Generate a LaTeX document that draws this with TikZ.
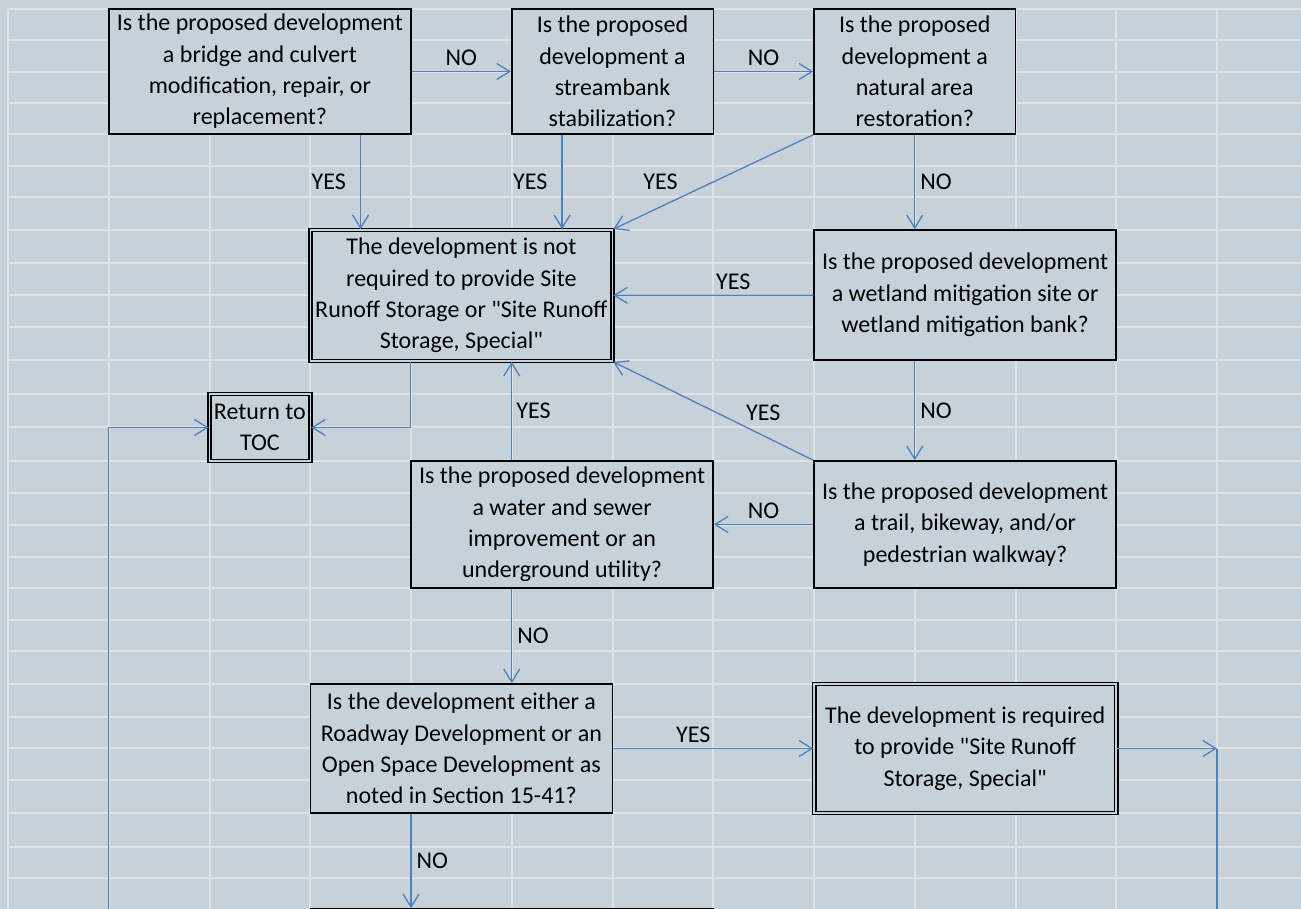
\documentclass[tikz,border=0pt]{standalone}
\usepackage{fontspec}
\setmainfont{Carlito}
\usetikzlibrary{arrows.meta}
\definecolor{sheet}{RGB}{198,209,217}
\definecolor{cellline}{RGB}{224,226,229}
\definecolor{flow}{RGB}{79,129,189}
\tikzset{
	box/.style={draw=black, line width=1.5pt, fill=sheet, align=center, inner sep=0pt, execute at begin node={\rule{0pt}{30pt}}},
	final/.style={box, double=sheet, double distance=1.4pt, line width=1.7pt},
	arr/.style={draw=flow, line width=1.3pt, -{Straight Barb[length=13pt,width=16pt]}},
	flowline/.style={draw=flow, line width=1.3pt},
	lbl/.style={inner sep=2pt},
	cell/.style={draw=cellline, line width=2pt}
}
\begin{document}
\begin{tikzpicture}
		[x=1pt, y=-1pt, font=\fontsize{24}{31.3}\selectfont]
		\useasboundingbox (0,0) rectangle (1301,909);
		\clip (0,0) rectangle (1301,909);
		\fill[sheet] (0,0) rectangle (1301,909);
		% sheet grid
		\foreach \c in {0,...,12}
			\draw[cell] ({8+100.75*\c},9) -- ({8+100.75*\c},909);
		\foreach \r in {9,40,72,103,134,166,197,230,263,295,327,360,394,427,461,493,525,557,588,620,651,684,717,748,780,813,847,878}
			\draw[cell] (8,\r) -- (1301,\r);
		% questions and results
		\node[box, minimum width=302pt, minimum height=125pt] (A) at (259.9,71.5) {Is the proposed development\\a bridge and culvert\\modification, repair, or\\replacement?};
		\node[box, minimum width=201.5pt, minimum height=125pt] (B) at (612.5,71.5) {Is the proposed\\development a\\streambank\\stabilization?};
		\node[box, minimum width=201.5pt, minimum height=125pt] (C) at (914.75,71.5) {Is the proposed\\development a\\natural area\\restoration?};
		\node[final, minimum width=302pt, minimum height=131pt] (D) at (461.4,295.5) {The development is not\\required to provide Site\\Runoff Storage or \textquotedbl Site Runoff\\Storage, Special\textquotedbl};
		\node[box, minimum width=302pt, minimum height=130pt] (E) at (965.1,295) {Is the proposed development\\a wetland mitigation site or\\wetland mitigation bank?};
		\node[final, minimum width=100.75pt, minimum height=67pt] (TOC) at (259.9,427.5) {Return to\\TOC};
		\node[box, minimum width=302pt, minimum height=127pt] (G) at (562.1,524.5) {Is the proposed development\\a water and sewer\\improvement or an\\underground utility?};
		\node[box, minimum width=302pt, minimum height=127pt] (F) at (965.1,524.5) {Is the proposed development\\a trail, bikeway, and/or\\pedestrian walkway?};
		\node[box, minimum width=302pt, minimum height=129pt] (H) at (461.4,748.5) {Is the development either a\\Roadway Development or an\\Open Space Development as\\noted in Section 15-41?};
		\node[final, minimum width=302pt, minimum height=129pt] (I) at (965.1,748.5) {The development is required\\to provide \textquotedbl Site Runoff\\Storage, Special\textquotedbl};
		\node[box, minimum width=403pt, minimum height=128pt] (N) at (511.75,973) {};
		\coordinate (side) at (108.75,920);
		\coordinate (turn) at (1217,748.5);
		\coordinate (down) at (1217,920);
		% connectors
		\draw (A) edge[arr] node[lbl, above=3pt] {NO} (B);
		\draw (B) edge[arr] node[lbl, above=3pt] {NO} (C);
		\draw[arr] ([xshift=100.7pt]A.south) -- ([xshift=100.7pt]A.south |- D.north) node[lbl, midway, left=12pt] {YES};
		\draw[arr] ([xshift=-50.4pt]B.south) -- ([xshift=-50.4pt]B.south |- D.north) node[lbl, midway, left=12pt] {YES};
		\draw[arr] (C.south west) -- (D.north east) node[lbl, midway, left=33pt] {YES};
		\draw (C) edge[arr] node[lbl, right=3pt] {NO} (E.north -| C);
		\draw (E) edge[arr] node[lbl, above=3pt, pos=0.4] {YES} (D);
		\draw[arr] ([xshift=-50.35pt]E.south) -- ([xshift=-50.35pt]F.north) node[lbl, midway, right=3pt] {NO};
		\draw[arr] (F.north west) -- (D.south east) node[lbl, pos=0.25, above=12pt] {YES};
		\draw (F) edge[arr] node[lbl, above=3pt] {NO} (G);
		\draw[arr] ([xshift=-50.35pt]G.north) -- ([xshift=-50.35pt]G.north |- D.south) node[lbl, midway, right=2pt] {YES};
		\draw[arr] ([xshift=-51pt]D.south) |- (TOC);
		\draw[arr] (side) |- (TOC);
		\draw[arr] ([xshift=-50.35pt]G.south) -- ([xshift=-50.35pt]G.south |- H.north) node[lbl, midway, right=3pt] {NO};
		\draw (H) edge[arr] node[lbl, above=3pt, pos=0.4] {YES} (I);
		\draw[arr] (I) -- (turn);
		\draw[flowline] (turn) -- (down);
		\draw[arr] ([xshift=-50.4pt]H.south) -- ([xshift=-50.4pt]H.south |- N.north) node[lbl, midway, right=3pt] {NO};
	\end{tikzpicture}
\end{document}
